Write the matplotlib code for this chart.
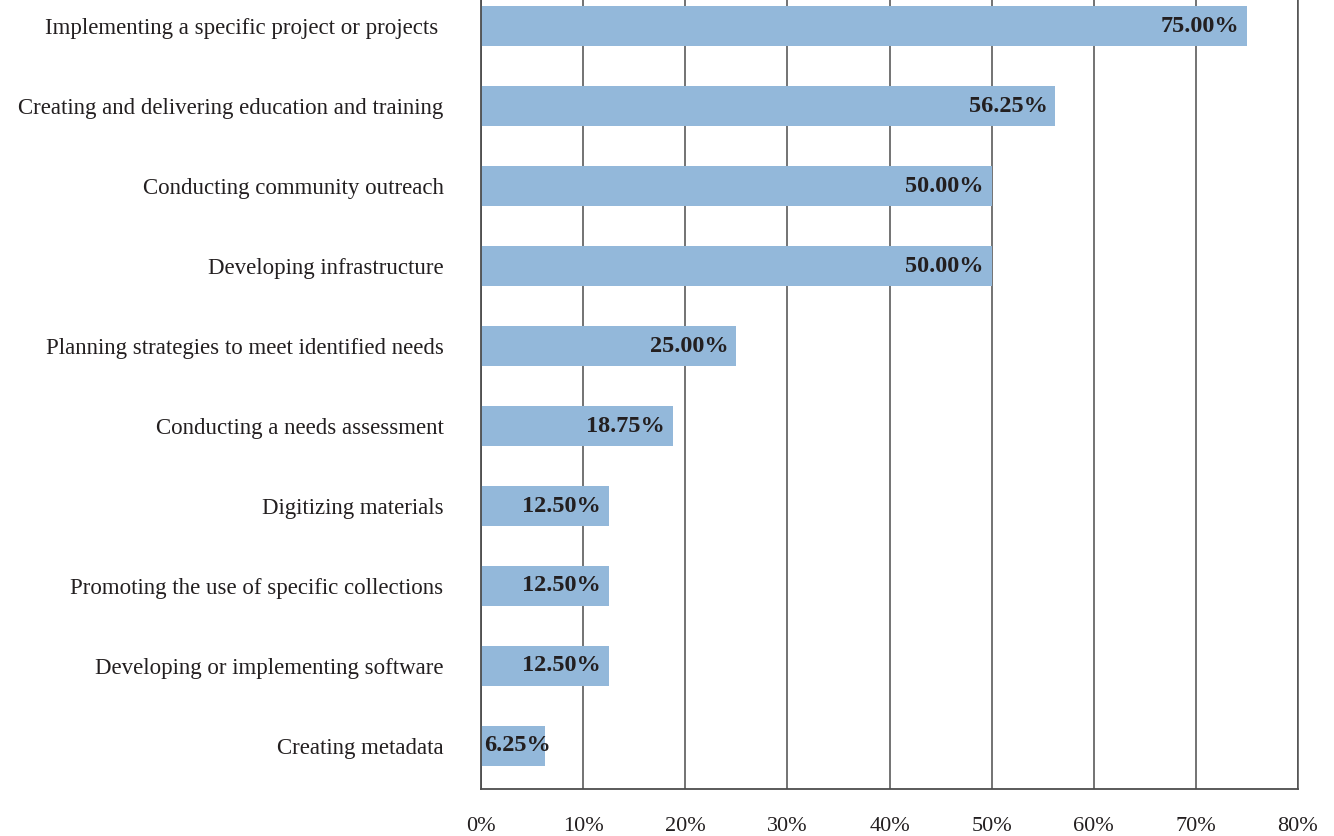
import matplotlib.pyplot as plt
import numpy as np

activities = [
    "Implementing a specific project or projects ",
    "Creating and delivering education and training",
    "Conducting community outreach",
    "Developing infrastructure",
    "Planning strategies to meet identified needs",
    "Conducting a needs assessment",
    "Digitizing materials",
    "Promoting the use of specific collections",
    "Developing or implementing software",
    "Creating metadata",
]
shares = [75.00, 56.25, 50.00, 50.00, 25.00, 18.75, 12.50, 12.50, 12.50, 6.25]
xticks = [0, 10, 20, 30, 40, 50, 60, 70, 80]

plt.rcParams['font.family'] = ['Liberation Serif', 'DejaVu Serif']

fig = plt.figure(figsize=(13.34, 8.36), dpi=100)
ax = fig.add_axes([0.3606, 0.0562, 0.6124, 0.9438])

ypos = np.arange(len(activities))
ax.set_axisbelow(True)
ax.barh(ypos, shares, height=0.5, color='#93b8da', zorder=2)

for y, v in zip(ypos, shares):
    # short bars: start the label at the axis so it stays readable
    if v < 10:
        ax.text(0.3, y, f"{v:.2f}%", ha='left', va='center',
                fontsize=17.5, fontweight='bold', color='#231f20', zorder=3)
    else:
        ax.text(v - 0.75, y, f"{v:.2f}%", ha='right', va='center',
                fontsize=17.5, fontweight='bold', color='#231f20', zorder=3)

ax.set_xlim(0, 80)
ax.set_ylim(9.54, -0.33)
ax.set_xticks(xticks)
ax.set_xticklabels([f"{t}%" for t in xticks], fontsize=16, color='#231f20')
ax.set_yticks(ypos)
ax.set_yticklabels(activities, fontsize=16.5, color='#231f20')
ax.tick_params(axis='both', length=0)
ax.tick_params(axis='y', pad=27)
ax.tick_params(axis='x', pad=20)

ax.grid(axis='x', color='#4d4d4d', linewidth=1.1)
ax.spines['top'].set_visible(False)
ax.spines['right'].set_color('#4d4d4d')
ax.spines['right'].set_linewidth(1.1)
for s in ['left', 'bottom']:
    ax.spines[s].set_color('#4d4d4d')
    ax.spines[s].set_linewidth(1.3)

fig.savefig('out.png', dpi=100)
